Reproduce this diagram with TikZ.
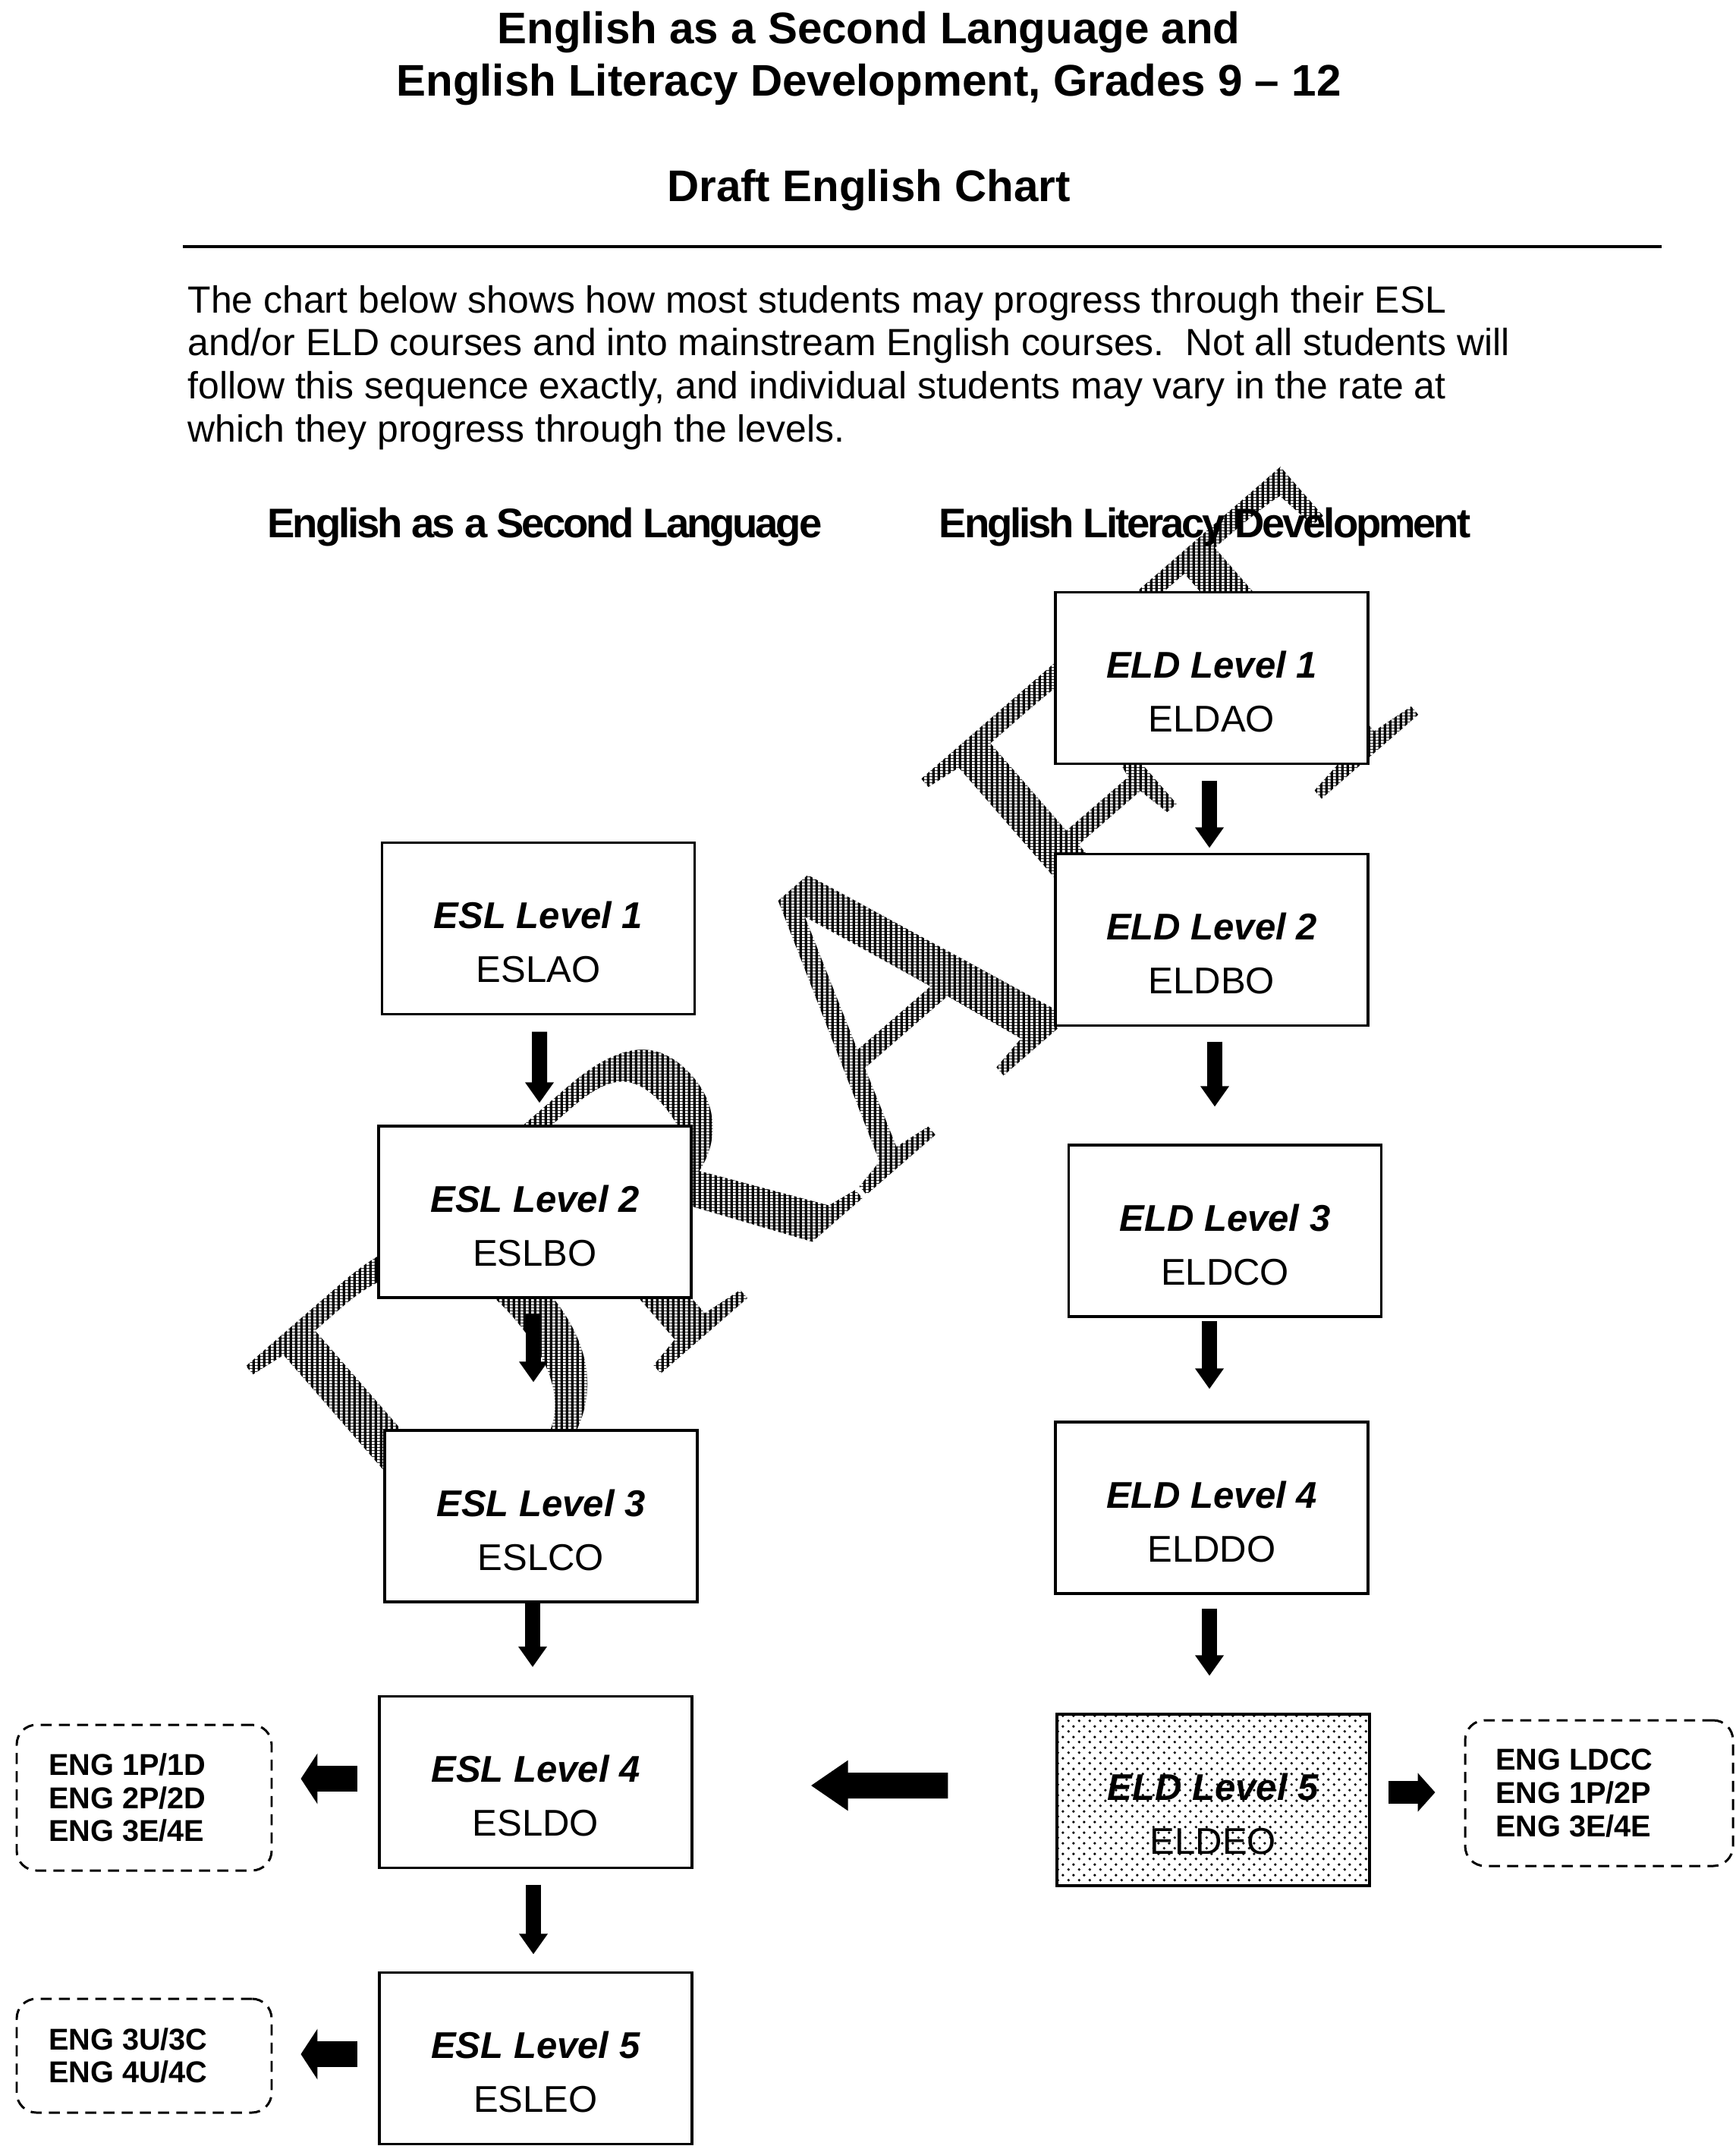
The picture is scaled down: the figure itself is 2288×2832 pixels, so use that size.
\documentclass[tikz,border=0pt]{standalone}
\usepackage{fontspec}
\setmainfont{Liberation Sans}
\newfontfamily\hdrfont[LetterSpace=-5.7]{Liberation Sans}
\newfontfamily\wmfont{Liberation Serif}
\usetikzlibrary{arrows.meta,calc,patterns}

\pgfdeclarepatternformonly{vhatch}{\pgfqpoint{0pt}{0pt}}{\pgfqpoint{2pt}{1pt}}{\pgfqpoint{2pt}{1pt}}{%
  \pgfpathrectangle{\pgfqpoint{0pt}{0pt}}{\pgfqpoint{1.2pt}{1pt}}\pgfusepath{fill}}
\pgfdeclarepatternformonly{stipple}{\pgfqpoint{0pt}{0pt}}{\pgfqpoint{4pt}{4pt}}{\pgfqpoint{4pt}{4pt}}{%
  \pgfpathcircle{\pgfqpoint{1pt}{1pt}}{0.55pt}\pgfpathcircle{\pgfqpoint{3pt}{3pt}}{0.55pt}\pgfusepath{fill}}

\newcommand{\lvltxt}[2]{\parbox[t]{40mm}{\centering\textbf{\textit{#1}}\\#2}}

\begin{document}
\begin{tikzpicture}[x=0.1mm, y=-0.1mm,
  lvl/.style={draw, line width=0.9pt, fill=white, minimum width=41.2mm, minimum height=22.6mm,
    inner sep=0pt, text height=0pt, text depth=0pt, font=\fontsize{13.95}{20.2}\selectfont},
  lvlshade/.style={lvl, preaction={fill=white}, pattern=stipple, pattern color=black},
  opt/.style={draw, line width=0.85pt, dash pattern=on 1.45mm off 0.95mm, rounded corners=2.6mm,
    fill=white, inner sep=0pt, font=\bfseries\fontsize{11.3}{12.5}\selectfont},
  hdr/.style={anchor=base, inner sep=0pt, font=\hdrfont\bfseries\fontsize{15.5}{18}\selectfont},
  ttl/.style={anchor=base, inner sep=0pt, font=\bfseries\fontsize{16.6}{19.6}\selectfont},
  varr/.style={line width=2mm, -{Triangle[width=3.6mm,length=2.7mm]}},
  harr/.style={line width=3.4mm, -{Triangle[width=6.6mm,length=2.2mm]}},
  harrbig/.style={line width=3.4mm, -{Triangle[width=6.3mm,length=4.9mm]}},
  harrsmall/.style={line width=3mm, -{Triangle[width=5mm,length=2.3mm]}},
  wmark/.style={rotate=41, inner sep=0pt, text=black, font=\wmfont\fontsize{159}{159}\selectfont}
]
\fill[white] (0,0) rectangle (2288,2832);
\useasboundingbox (0,0) rectangle (2288,2832);

% watermark
\node[wmark] (wm) at (1123,1348) {DRAFT};
\fill[pattern=vhatch, pattern color=white] (60,400) rectangle (2080,2320);

% titles
\node[ttl] (title) at (1145,58) {\parbox[t]{220mm}{\centering English as a Second Language and\\English Literacy Development, Grades 9 \textendash{} 12}};
\node[ttl] (sub) at (1145,265) {Draft English Chart};
\draw[line width=0.4mm] (241,325) -- (2190,325);
\node[anchor=base west, inner sep=0pt, font=\fontsize{14.2}{16.2}\selectfont] (intro) at (247,412)
  {\parbox[t]{200mm}{\raggedright The chart below shows how most students may progress through their ESL\\
  and/or ELD courses and into mainstream English courses.\ \ Not all students will\\
  follow this sequence exactly, and individual students may vary in the rate at\\
  which they progress through the levels.}};

\node[hdr] (hesl) at (718,708) {English as a Second Language};
\node[hdr] (held) at (1588,708) {English Literacy Development};

% ESL column
\node[lvl] (esl1) at (709.5,1223.5) {\lvltxt{ESL Level 1}{ESLAO}};
\node[lvl] (esl2) at (705,1597) {\lvltxt{ESL Level 2}{ESLBO}};
\node[lvl] (esl3) at (713,1998) {\lvltxt{ESL Level 3}{ESLCO}};
\node[lvl] (esl4) at (706,2348.5) {\lvltxt{ESL Level 4}{ESLDO}};
\node[lvl] (esl5) at (706,2712.5) {\lvltxt{ESL Level 5}{ESLEO}};

% ELD column
\node[lvl] (eld1) at (1597,893.5) {\lvltxt{ELD Level 1}{ELDAO}};
\node[lvl] (eld2) at (1597,1238.5) {\lvltxt{ELD Level 2}{ELDBO}};
\node[lvl] (eld3) at (1614.5,1622) {\lvltxt{ELD Level 3}{ELDCO}};
\node[lvl] (eld4) at (1597,1987) {\lvltxt{ELD Level 4}{ELDDO}};
\node[lvlshade] (eld5) at (1599,2372) {\lvltxt{ELD Level 5}{ELDEO}};

% option boxes
\node[opt, minimum width=33.6mm, minimum height=19.2mm] (o1) at (190,2369)
  {\parbox{25.2mm}{\raggedright ENG 1P/1D\\ENG 2P/2D\\ENG 3E/4E}};
\node[opt, minimum width=33.6mm, minimum height=15mm] (o2) at (190,2709)
  {\parbox{25.2mm}{\raggedright ENG 3U/3C\\ENG 4U/4C}};
\node[opt, minimum width=35.3mm, minimum height=19.2mm] (o3) at (2107.5,2363)
  {\parbox{27.3mm}{\raggedright ENG LDCC\\ENG 1P/2P\\ENG 3E/4E}};

% vertical arrows
\draw[varr] ($(esl1.south)+(1.5,21.5)$) -- ($(esl2.north)+(6,-29)$);
\draw[varr] ($(esl2.south)+(-2,19)$) -- ($(esl3.north)+(-10,-62)$);
\draw[varr] ($(esl3.south)+(-11,0)$) -- ($(esl4.north)+(-4,-37)$);
\draw[varr] ($(esl4.south)+(-3,20.5)$) -- ($(esl5.north)+(-3,-22.5)$);
\draw[varr] ($(eld1.south)+(-3,20.5)$) -- ($(eld2.north)+(-3,-6.5)$);
\draw[varr] ($(eld2.south)+(4,19.5)$) -- ($(eld3.north)+(-13.5,-49)$);
\draw[varr] ($(eld3.south)+(-20.5,4)$) -- ($(eld4.north)+(-3,-42)$);
\draw[varr] ($(eld4.south)+(-3,18)$) -- ($(eld5.north)+(-5,-49)$);

% horizontal arrows
\draw[harr] ($(esl4.west)+(-27,-4.5)$) -- ($(o1.east)+(37,-25)$);
\draw[harr] ($(esl5.west)+(-27,-5.5)$) -- ($(o2.east)+(37,-2)$);
\draw[harrbig] ($(eld5.west)+(-142,-19)$) -- ($(esl4.east)+(155,4.5)$);
\draw[harrsmall] ($(eld5.east)+(23,-10)$) -- ($(o3.west)+(-38,-1)$);
\end{tikzpicture}
\end{document}
